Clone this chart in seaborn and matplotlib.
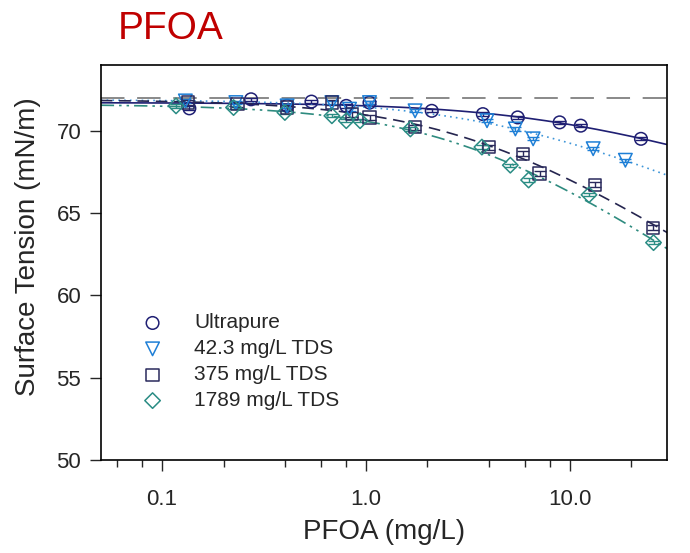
import numpy as np
import pandas as pd
import matplotlib
matplotlib.use("Agg")
import matplotlib.pyplot as plt
from matplotlib.ticker import FixedLocator, NullFormatter
import seaborn as sns

# PFOA - ytspanning mot koncentration i fyra vatten

# ultrapure
up_x = [0.136, 0.273, 0.41, 0.54, 0.80, 1.04, 2.1, 3.74, 5.54, 8.9, 11.3, 22.3]
up_y = [71.35, 71.9, 71.5, 71.76, 71.5, 71.7, 71.2, 71.0, 70.8, 70.5, 70.3, 69.5]

# 42.3 mg/L TDS
t42_x = [0.13, 0.23, 0.41, 0.68, 0.83, 1.04, 1.74, 3.92, 5.4, 6.6, 13.0, 18.7]
t42_y = [71.8, 71.7, 71.5, 71.7, 71.3, 71.7, 71.2, 70.6, 70.1, 69.5, 68.9, 68.2]

# 375 mg/L TDS
t375_x = [0.134, 0.234, 0.41, 0.68, 0.85, 1.04, 1.74, 4.0, 5.9, 7.1, 13.3, 25.6]
t375_y = [71.7, 71.6, 71.4, 71.7, 71.0, 70.8, 70.2, 69.0, 68.6, 67.4, 66.7, 64.1]

# 1789 mg/L TDS
t1789_x = [0.117, 0.224, 0.40, 0.68, 0.80, 0.935, 1.65, 3.7, 5.1, 6.27, 12.4, 25.7]
t1789_y = [71.5, 71.4, 71.1, 70.9, 70.6, 70.6, 70.1, 69.0, 67.9, 67.0, 66.1, 63.2]

# ungefarliga standardavvikelser (syns som streck inne i markorerna)
up_err = [0.12, 0.1, 0.1, 0.1, 0.1, 0.1, 0.1, 0.1, 0.1, 0.1, 0.1, 0.1]
t42_err = [0.1, 0.1, 0.1, 0.1, 0.1, 0.1, 0.1, 0.1, 0.1, 0.1, 0.1, 0.1]
t375_err = [0.15, 0.15, 0.15, 0.15, 0.15, 0.15, 0.15, 0.15, 0.15, 0.15, 0.15, 0.15]
t1789_err = [0.1, 0.1, 0.1, 0.1, 0.1, 0.1, 0.1, 0.1, 0.1, 0.1, 0.1, 0.1]

labels = ['Ultrapure', '42.3 mg/L TDS', '375 mg/L TDS', '1789 mg/L TDS']
pure_water = 72.0

series = [
    (up_x, up_y, up_err, 'o', '#1f1f73', '#1f1f73', '-', 82),
    (t42_x, t42_y, t42_err, 'v', '#1e7fd6', '#3d95d8', (0, (1, 2.5)), 95),
    (t375_x, t375_y, t375_err, 's', '#2a2a5c', '#25254f', (0, (7, 4)), 78),
    (t1789_x, t1789_y, t1789_err, 'D', '#2a8c84', '#2e8b7f', (0, (8, 3, 1.5, 3, 1.5, 3)), 62),
]


# Szyszkowski: gamma = a - b*ln(1 + K*c), anpassad till punkterna
def szyszkowski_fit(x, y):
    x = np.asarray(x)
    y = np.asarray(y)
    best = None
    for k in np.logspace(-3, 1.5, 500):
        A = np.column_stack([np.ones_like(x), -np.log1p(k * x)])
        coef = np.linalg.lstsq(A, y, rcond=None)[0]
        err = np.sum((A @ coef - y) ** 2)
        if best is None or err < best[0]:
            best = (err, k, coef)
    return best[1], best[2]


sns.set_style('ticks')
plt.rcParams['font.family'] = ['Liberation Sans', 'DejaVu Sans']

fig, ax = plt.subplots(figsize=(6.9, 5.53), dpi=100)
fig.subplots_adjust(left=0.146, right=0.967, top=0.883, bottom=0.168)

xs = np.logspace(np.log10(0.05), np.log10(30), 300)

ax.axhline(pure_water, color='#808080', lw=1.3, dashes=(13, 7), zorder=1)

for (x, y, err, mk, mcol, lcol, ls, size), lab in zip(series, labels):
    k, (a, b) = szyszkowski_fit(x, y)
    fit = pd.DataFrame({'c': xs, 'st': a - b * np.log1p(k * xs)})
    sns.lineplot(data=fit, x='c', y='st', color=lcol, linestyle=ls, lw=1.2, ax=ax, zorder=2)
    ax.errorbar(x, y, yerr=err, fmt='none', ecolor=mcol, elinewidth=1.0, capsize=4.5, capthick=1.0, zorder=3)
    pts = pd.DataFrame({'c': x, 'st': y})
    sns.scatterplot(data=pts, x='c', y='st', marker=mk, s=size, facecolor='none',
                    edgecolor=mcol, linewidth=1.1, ax=ax, label=lab, zorder=4)

ax.set_xscale('log')
ax.set_xlim(0.05, 30)
ax.set_ylim(50, 74)

ax.xaxis.set_major_locator(FixedLocator([0.1, 1, 10]))
ax.set_xticklabels(['0.1', '1.0', '10.0'])
ax.xaxis.set_minor_locator(FixedLocator([0.06, 0.08, 0.2, 0.4, 0.6, 0.8, 2, 4, 6, 8, 20]))
ax.xaxis.set_minor_formatter(NullFormatter())
ax.set_yticks([50, 55, 60, 65, 70])

ax.tick_params(axis='both', which='major', direction='out', length=8, width=1.0, labelsize=16)
ax.tick_params(axis='x', which='major', pad=13)
ax.tick_params(axis='y', which='major', pad=6)
ax.tick_params(axis='x', which='minor', direction='out', length=5, width=1.0)

for sp in ax.spines.values():
    sp.set_visible(True)
    sp.set_linewidth(1.2)
    sp.set_color('black')

ax.set_xlabel('PFOA (mg/L)', fontsize=20, labelpad=6)
ax.set_ylabel('Surface Tension (mN/m)', fontsize=20)
ax.yaxis.set_label_coords(-0.105, 0.54)

leg = ax.legend(loc='upper left', bbox_to_anchor=(0.04, 0.392), frameon=False, fontsize=15,
                handletextpad=1.0, labelspacing=0.33, borderaxespad=0)

fig.text(0.17, 1 - 11 / 553, 'PFOA', color='#c00000', fontsize=28, ha='left', va='top')

fig.savefig('out.png', dpi=100)
